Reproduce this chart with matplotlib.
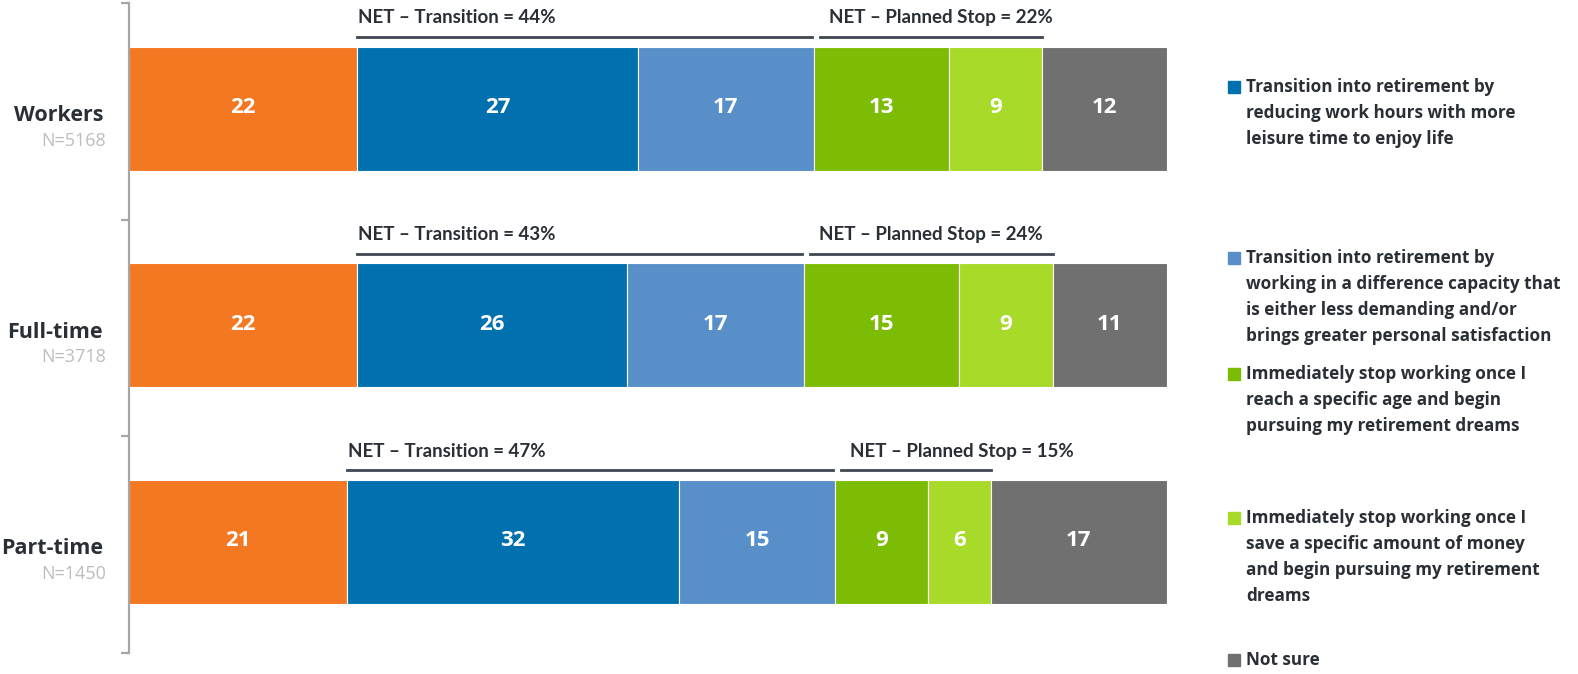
import matplotlib
matplotlib.use('Agg')
import numpy as np
import matplotlib.pyplot as plt
from matplotlib.patches import Rectangle

groups = ['Workers', 'Full-time', 'Part-time']
sample_sizes = ['N=5168', 'N=3718', 'N=1450']

continue_working = [22, 22, 21]
reduce_hours = [27, 26, 32]
different_capacity = [17, 17, 15]
stop_at_age = [13, 15, 9]
stop_at_savings = [9, 9, 6]
not_sure = [12, 11, 17]

net_transition = [44, 43, 47]
net_planned_stop = [22, 24, 15]

legend_labels = [
    'Continue working as long as possible\nor until I no longer can work',
    'Transition into retirement by\nreducing work hours with more\nleisure time to enjoy life',
    'Transition into retirement by\nworking in a difference capacity that\nis either less demanding and/or\nbrings greater personal satisfaction',
    'Immediately stop working once I\nreach a specific age and begin\npursuing my retirement dreams',
    'Immediately stop working once I\nsave a specific amount of money\nand begin pursuing my retirement\ndreams',
    'Not sure',
]

colors = ['#F47721', '#0071AE', '#588FC8', '#7DBC05', '#A8DA2A', '#707070']
dark = '#2a2f36'
font = 'Open Sans'

W, H = 1578, 674
fig = plt.figure(figsize=(W / 100, H / 100), dpi=100)
ax = fig.add_axes([129 / W, 21 / H, (1167 - 129) / W, 650 / H])

series = [continue_working, reduce_hours, different_capacity,
          stop_at_age, stop_at_savings, not_sure]
y = np.arange(len(groups)) - 0.012
bh = 124 / 217
left = np.zeros(len(groups))
lefts = []
for vals, c in zip(series, colors):
    vals = np.array(vals, dtype=float)
    ax.barh(y, vals, left=left, height=bh, color=c, edgecolor='white', linewidth=0.8)
    for yi, l, v in zip(y, left, vals):
        ax.text(l + v / 2, yi - 0.005, f'{int(v)}', ha='center', va='center',
                color='white', fontsize=16, fontweight='bold', family=font)
    lefts.append(left.copy())
    left = left + vals

ax.set_xlim(0, 100)
ax.set_ylim(2.5, -0.5)
for s in ['top', 'right', 'bottom']:
    ax.spines[s].set_visible(False)
ax.spines['left'].set_color('#a6a6a6')
ax.spines['left'].set_linewidth(1.6)
ax.set_xticks([])
ax.set_yticks([-0.5, 0.5, 1.5, 2.5])
ax.set_yticklabels([])
ax.tick_params(axis='y', length=6, width=1.6, color='#a6a6a6', direction='out')

# NET brackets above the bars
px = 100 / 1038
for i, yc in enumerate(y):
    top = yc - bh / 2
    ly = top - 10 / 217
    ty = ly - 19 / 217
    x0 = lefts[1][i]
    x1 = lefts[3][i] - 2 * px
    ax.plot([x0, x1], [ly, ly], color='#3d4651', lw=2, clip_on=False)
    ax.text(x0 + 1 * px, ty, f'NET \u2013 Transition = {net_transition[i]}%',
            ha='left', va='center', fontsize=13.5, fontweight='bold', color=dark,
            family=['Liberation Sans Narrow', 'Lato'])
    x2 = lefts[3][i] + 6 * px
    x3 = lefts[5][i]
    ax.plot([x2, x3], [ly, ly], color='#3d4651', lw=2, clip_on=False)
    ax.text(x2 + 9 * px, ty, f'NET \u2013 Planned Stop = {net_planned_stop[i]}%',
            ha='left', va='center', fontsize=13.5, fontweight='bold', color=dark,
            family=['Liberation Sans Narrow', 'Lato'])

# group labels
for i, (g, n) in enumerate(zip(groups, sample_sizes)):
    ax.text(-26 * px, i + 0.02, g, ha='right', va='center', fontsize=15.5,
            fontweight='bold', color=dark, family=font)
    ax.text(-23 * px, i + 0.135, n, ha='right', va='center', fontsize=13,
            color='#bdbdbd', family=font)

# legend drawn by hand (first entry runs off the top, as in the source)
legend_y = [-36, 87, 258, 374, 518, 660]
for lab, c, yy in zip(legend_labels, colors, legend_y):
    fig.patches.append(Rectangle((1228 / W, 1 - (yy + 6) / H), 12 / W, 12 / H,
                                 transform=fig.transFigure, color=c))
    fig.text(1246 / W, 1 - (yy - 9) / H, lab, ha='left', va='top',
             fontsize=12.3, fontweight='bold', color=dark, family=font,
             linespacing=1.56)

fig.savefig('out.png', dpi=100)
